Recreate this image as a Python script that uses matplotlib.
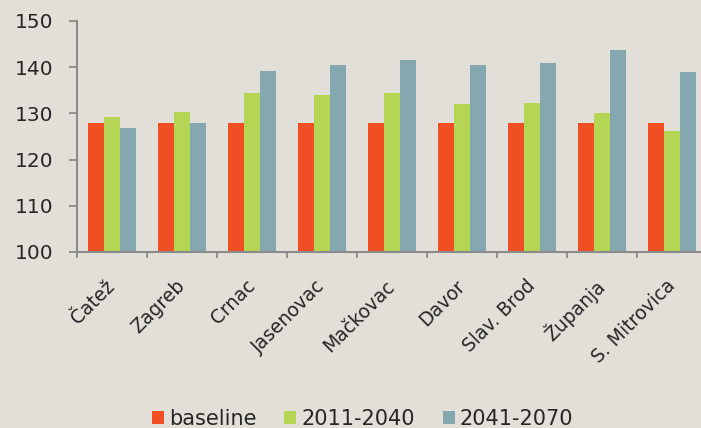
import matplotlib
matplotlib.use("Agg")
import matplotlib.pyplot as plt
import numpy as np
from matplotlib.patches import Patch

categories = ["Čatež", "Zagreb", "Crnac", "Jasenovac", "Mačkovac", "Davor",
              "Slav. Brod", "Županja", "S. Mitrovica"]
baseline = [128, 128, 128, 128, 128, 128, 128, 128, 128]
p2011_2040 = [129.3, 130.3, 134.5, 134.0, 134.5, 132.1, 132.3, 130.1, 126.2]
p2041_2070 = [126.9, 128.0, 139.2, 140.5, 141.6, 140.5, 141.0, 143.8, 139.0]
series_names = ["baseline", "2011-2040", "2041-2070"]
yticks = [100, 110, 120, 130, 140, 150]

colors = ["#f04f23", "#b5d555", "#85a7b0"]
bg = "#e2dfd9"
axis_col = "#8a8a8a"
text_col = "#262626"

plt.rcParams['font.family'] = ['DejaVu Sans']

fig = plt.figure(figsize=(7.01, 4.28), dpi=100, facecolor=bg)
ax = fig.add_axes([77/701, 1-252/428, 630/701, (252-21)/428])
ax.set_facecolor(bg)

x = np.arange(len(categories))
w = 0.23
for i, (vals, c) in enumerate(zip([baseline, p2011_2040, p2041_2070], colors)):
    ax.bar(x + (i-1)*w, np.array(vals) - 100, bottom=100, width=w, color=c,
           label=series_names[i], zorder=2)

ax.set_xlim(-0.5, len(categories)-0.5)
ax.set_ylim(100, 150)
ax.set_yticks(yticks)
ax.set_yticklabels([str(t) for t in yticks], fontsize=14.5, color=text_col)

for s in ["top", "right"]:
    ax.spines[s].set_visible(False)
for s in ["left", "bottom"]:
    ax.spines[s].set_color(axis_col)
    ax.spines[s].set_linewidth(1.5)
    ax.spines[s].set_zorder(3)

ax.tick_params(axis='y', direction='out', length=5.8, width=1.3, color=axis_col, pad=11)
ax.set_xticks(x)
ax.set_xticks(np.arange(len(categories)+1) - 0.5, minor=True)
ax.tick_params(axis='x', which='major', length=0, pad=22.5)
ax.tick_params(axis='x', which='minor', direction='out', length=4.3, width=1.3, color=axis_col)
ax.set_xticklabels(categories, fontsize=13.5, color=text_col, rotation=45,
                   ha='right', va='center', rotation_mode='anchor')

handles = [Patch(facecolor=c, edgecolor='none') for c in colors]
fig.legend(handles, series_names, loc='center', bbox_to_anchor=(0.517, 1-419/428),
           ncol=3, frameon=False, fontsize=15, handlelength=0.58, handleheight=0.58,
           handletextpad=0.22, columnspacing=1.35, borderpad=0, labelcolor=text_col)

fig.savefig("out.png", dpi=100, facecolor=bg)
